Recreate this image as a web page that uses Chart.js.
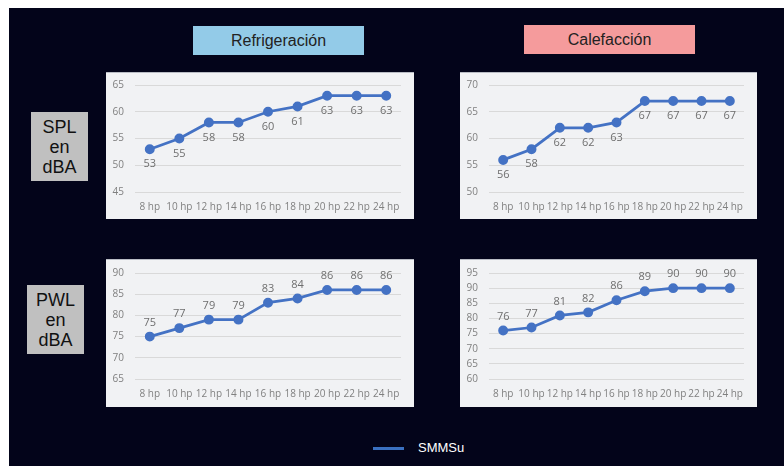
<!DOCTYPE html>
<html>
<head>
<meta charset="utf-8">
<script src="https://cdn.jsdelivr.net/npm/chart.js@4.4.1/dist/chart.umd.min.js"></script>
<style>
  body { margin:0; background:#fff; width:784px; height:466px; overflow:hidden; position:relative; font-family:"Liberation Sans", Arial, sans-serif; }
  #bg { position:absolute; left:9px; top:8px; width:775px; height:458px; background:#03041a; }
  .box { position:absolute; display:flex; align-items:center; justify-content:center; text-align:center; color:#222; }
  .panel { position:absolute; background:#f1f2f4; box-shadow: inset 0 1px 0 #b9bcc4; }
  .panel canvas { position:absolute; left:0; top:0; }
</style>
</head>
<body>
<div id="bg"></div>
<div class="box" style="left:193px;top:26px;width:171px;height:29px;background:#93cbe8;font-size:16px;">Refrigeración</div>
<div class="box" style="left:524px;top:25px;width:171px;height:29px;background:#f59b9c;font-size:16px;">Calefacción</div>
<div class="box" style="left:31px;top:112px;width:57px;height:69px;background:#c0c0c0;font-size:18px;line-height:20px;color:#111;">SPL<br>en<br>dBA</div>
<div class="box" style="left:27px;top:285px;width:57px;height:69px;background:#c0c0c0;font-size:18px;line-height:20px;color:#111;">PWL<br>en<br>dBA</div>

<div class="panel" style="left:106px;top:72px;width:308px;height:147px;"><canvas id="c1" width="308" height="147"></canvas></div>
<div class="panel" style="left:460px;top:72px;width:297px;height:147px;"><canvas id="c2" width="297" height="147"></canvas></div>
<div class="panel" style="left:106px;top:259px;width:308px;height:148px;"><canvas id="c3" width="308" height="148"></canvas></div>
<div class="panel" style="left:460px;top:259px;width:297px;height:148px;"><canvas id="c4" width="297" height="148"></canvas></div>

<div style="position:absolute;left:373px;top:447px;width:31px;height:3px;background:#3a70c0;"></div>
<div style="position:absolute;left:418px;top:440px;color:#fff;font-size:13px;line-height:16px;">SMMSu</div>

<script>
// categories
var hp = ['8 hp','10 hp','12 hp','14 hp','16 hp','18 hp','20 hp','22 hp','24 hp'];

// series values
var splRefrig = [53, 55, 58, 58, 60, 61, 63, 63, 63];
var splCalef  = [56, 58, 62, 62, 63, 67, 67, 67, 67];
var pwlRefrig = [75, 77, 79, 79, 83, 84, 86, 86, 86];
var pwlCalef  = [76, 77, 81, 82, 86, 89, 90, 90, 90];

// y axis ranges [min, max, step]
var splRefrigAxis = [45, 65, 5];
var splCalefAxis  = [50, 70, 5];
var pwlRefrigAxis = [65, 90, 5];
var pwlCalefAxis  = [60, 95, 5];

var tickFont = { family: '"Open Sans", "Noto Sans", sans-serif', size: 10 };

// small plugin to write the value next to every point
var valueLabels = {
  id: 'valueLabels',
  afterDatasetsDraw: function(chart, args, opts) {
    var ctx = chart.ctx;
    var meta = chart.getDatasetMeta(0);
    var ds = chart.data.datasets[0];
    ctx.save();
    ctx.font = '11px "Open Sans", "Noto Sans", sans-serif';
    ctx.fillStyle = '#6f6f6f';
    ctx.textAlign = 'center';
    ctx.textBaseline = 'middle';
    meta.data.forEach(function(pt, i) {
      var dy = opts.below ? 15 : -14;
      ctx.fillText(ds.data[i], pt.x, pt.y + dy);
    });
    ctx.restore();
  }
};

function makeChart(id, values, axis, below, plotTop, plotBottom) {
  var canvas = document.getElementById(id);
  var h = canvas.height;
  return new Chart(canvas.getContext('2d'), {
    type: 'line',
    data: {
      labels: hp,
      datasets: [{
        label: 'SMMSu',
        data: values,
        borderColor: '#4472c4',
        backgroundColor: '#4472c4',
        borderWidth: 2.75,
        pointRadius: 3.6,
        pointHoverRadius: 3.6,
        tension: 0
      }]
    },
    options: {
      responsive: false,
      animation: false,
      layout: { padding: { top: plotTop, right: 13, left: 0, bottom: 0 } },
      plugins: {
        legend: { display: false },
        tooltip: { enabled: false },
        valueLabels: { below: below }
      },
      scales: {
        x: {
          offset: true,
          grid: { display: false, drawTicks: false },
          border: { display: false },
          ticks: { color: '#808080', font: tickFont, padding: 9, maxRotation: 0, autoSkip: false },
          afterFit: function(s) { s.height = h - plotBottom; s.paddingLeft = 0; s.paddingRight = 0; }
        },
        y: {
          min: axis[0],
          max: axis[1],
          grid: { color: '#d9d9d9', lineWidth: 1, drawTicks: false },
          border: { display: false },
          ticks: { stepSize: axis[2], color: '#808080', font: tickFont, padding: 11, autoSkip: false },
          afterFit: function(s) { s.width = 29; s.paddingTop = 0; s.paddingBottom = 0; }
        }
      }
    },
    plugins: [valueLabels]
  });
}

makeChart('c1', splRefrig, splRefrigAxis, true, 13, 120);
makeChart('c2', splCalef, splCalefAxis, true, 13, 120);
makeChart('c3', pwlRefrig, pwlRefrigAxis, false, 14, 120);
makeChart('c4', pwlCalef, pwlCalefAxis, false, 14, 120);
</script>
</body>
</html>
